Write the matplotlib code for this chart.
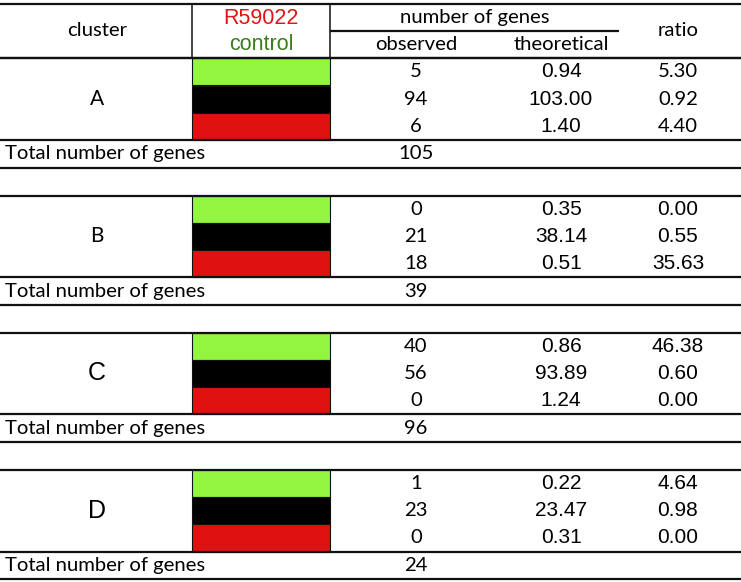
import matplotlib
matplotlib.use("Agg")
import matplotlib.pyplot as plt

# table contents
clusters = ['A', 'B', 'C', 'D']
observed = [[5, 94, 6], [0, 21, 18], [40, 56, 0], [1, 23, 0]]
theoretical = [[0.94, 103.00, 1.40], [0.35, 38.14, 0.51],
               [0.86, 93.89, 1.24], [0.22, 23.47, 0.31]]
ratio = [[5.30, 0.92, 4.40], [0.00, 0.55, 35.63],
         [46.38, 0.60, 0.00], [4.64, 0.98, 0.00]]
totals = [105, 39, 96, 24]
state_colors = ['#93F53F', '#000000', '#DF1111']

# fonts (one looks like Calibri, one like Arial in the original)
cal = 'Lato'
ari = 'Liberation Sans'
cal_size = 14.6
ari_size = 15
theo_font = [ari, ari, ari, ari]
ratio_font = [cal, ari, ari, ari]
label_font = [cal, cal, ari, ari]
label_size = [15, 15, 18, 18]

W, H = 741, 582
fig = plt.figure(figsize=(W / 100, H / 100), dpi=100)
ax = fig.add_axes([0, 0, 1, 1])
ax.set_xlim(0, W)
ax.set_ylim(H, 0)
ax.axis('off')

x_div1, x_div2 = 192, 329.5
x_clu, x_obs, x_theo, x_rat = 97, 416, 561, 678
head_top, head_bot = 4, 58.3
rh = 27.2
step = 137.2
lw = 1.6

# header
ax.hlines([head_top, head_bot], 0, W, color='#111111', lw=lw)
ax.hlines(30.7, x_div2, 619, color='#111111', lw=lw)
ax.vlines([x_div1, x_div2], head_top, head_bot, color='#111111', lw=1.1)
ax.text(x_clu, 31, 'cluster', family=cal, fontsize=cal_size, ha='center', va='center')
ax.text(261, 18, 'R59022', family=ari, fontsize=15.5, color='#E01515', ha='center', va='center')
ax.text(261, 44, 'control', family=ari, fontsize=15.5, color='#3A7D1C', ha='center', va='center')
ax.text(475, 17, 'number of genes', family=cal, fontsize=cal_size, ha='center', va='center')
ax.text(x_obs, 44, 'observed', family=cal, fontsize=cal_size, ha='center', va='center')
ax.text(x_theo, 44, 'theoretical', family=cal, fontsize=cal_size, ha='center', va='center')
ax.text(x_rat, 31, 'ratio', family=cal, fontsize=cal_size, ha='center', va='center')

for i, name in enumerate(clusters):
    top = head_bot + i * step
    ys = [top + rh * (k + 0.5) for k in range(3)]
    ax.barh(ys, x_div2 - x_div1, height=rh, left=x_div1, color=state_colors,
            edgecolor='#111111', linewidth=0.8)
    ax.hlines([top, top + 3 * rh, top + 4 * rh + 0.7], 0, W, color='#111111', lw=lw)
    ax.text(x_clu, top + 1.5 * rh, name, family=label_font[i], fontsize=label_size[i],
            ha='center', va='center')
    for k in range(3):
        ax.text(x_obs, ys[k], str(observed[i][k]), family=cal, fontsize=cal_size,
                ha='center', va='center')
        ax.text(x_theo, ys[k], '%.2f' % theoretical[i][k], family=theo_font[i],
                fontsize=ari_size, ha='center', va='center')
        ax.text(x_rat, ys[k], '%.2f' % ratio[i][k], family=ratio_font[i],
                fontsize=ari_size if ratio_font[i] == ari else cal_size,
                ha='center', va='center')
    yt = top + 3.5 * rh + 0.4
    ax.text(5, yt, 'Total number of genes', family=cal, fontsize=cal_size, ha='left', va='center')
    ax.text(x_obs, yt, str(totals[i]), family=cal, fontsize=cal_size, ha='center', va='center')

fig.savefig('out.png', dpi=100)
